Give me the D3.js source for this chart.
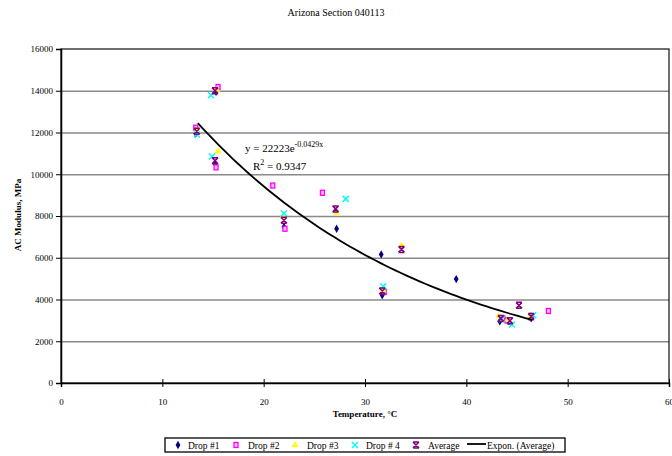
<!DOCTYPE html>
<html>
<head>
<meta charset="utf-8">
<script src="https://cdn.jsdelivr.net/npm/d3@7"></script>
<style>
  body { margin: 0; background: #fff; }
  text { font-family: "Liberation Serif", "Times New Roman", serif; fill: #000; }
</style>
</head>
<body>
<svg id="chart" width="672" height="456"></svg>
<script>
// chart text / ticks
const chartTitle = 'Arizona Section 040113';
const xLabel = 'Temperature, °C';
const yLabel = 'AC Modulus, MPa';
const xTicks = [0, 10, 20, 30, 40, 50, 60];
const yTicks = [0, 2000, 4000, 6000, 8000, 10000, 12000, 14000, 16000];

// [temperature, modulus]
const drop1 = [[13.3, 11950], [15.3, 13950], [15.2, 10520], [22.0, 7480], [27.2, 7390],
  [31.6, 6160], [31.7, 4200], [39.0, 4980], [43.3, 2950], [44.2, 2950], [46.4, 3100]];
const drop2 = [[13.3, 12230], [15.5, 14180], [15.3, 10330], [20.9, 9460], [22.1, 7390],
  [25.8, 9110], [31.9, 4360], [43.6, 3100], [44.0, 3000], [46.4, 3150], [48.1, 3450]];
const drop3 = [[13.4, 12100], [15.4, 14050], [15.5, 11100], [21.9, 7990], [27.2, 8150],
  [33.6, 6590], [31.8, 4440], [43.2, 3200], [44.1, 3050], [46.3, 3200]];
const drop4 = [[13.4, 11900], [14.8, 13780], [14.9, 10850], [22.0, 8120], [28.1, 8820],
  [31.8, 4630], [43.5, 3050], [44.5, 2800], [46.6, 3250]];
const average = [[13.4, 12060], [15.2, 14000], [15.2, 10650], [22.0, 7800], [27.1, 8340],
  [33.6, 6400], [31.7, 4410], [43.4, 3090], [44.3, 2980], [45.2, 3720], [46.4, 3190]];

// Excel exponential trendline of the average
const trendA = 22223;
const trendB = -0.0429;
const trendRange = [13.5, 46.5];
const eqText = 'y = 22223e';
const eqExp = '-0.0429x';
const r2Value = ' = 0.9347';

const legendNames = ['Drop #1', 'Drop #2', 'Drop #3', 'Drop # 4', 'Average', 'Expon. (Average)'];

const svg = d3.select('#chart');
const margin = { top: 49, left: 61, right: 3, bottom: 73 };
const width = 672, height = 456;
const innerW = width - margin.left - margin.right;
const innerH = height - margin.top - margin.bottom;

const x = d3.scaleLinear().domain([0, 60]).range([0, innerW]);
const y = d3.scaleLinear().domain([0, 16000]).range([innerH, 0]);

svg.append('text')
  .attr('x', 336).attr('y', 16)
  .attr('text-anchor', 'middle')
  .style('font-size', '10px')
  .text(chartTitle);

const g = svg.append('g').attr('transform', `translate(${margin.left},${margin.top})`);

// gridlines
g.append('g')
  .call(d3.axisLeft(y).tickValues(yTicks.slice(1, -1)).tickSize(-innerW).tickFormat(''))
  .call(a => a.select('.domain').remove())
  .call(a => a.selectAll('line').attr('stroke', '#8a8a8a').attr('stroke-width', 1.3));

// plot frame
g.append('rect')
  .attr('width', innerW).attr('height', innerH)
  .attr('fill', 'none').attr('stroke', '#222').attr('stroke-width', 1.3);

// y axis
g.append('g')
  .call(d3.axisLeft(y).tickValues(yTicks).tickSize(5).tickPadding(3).tickFormat(d3.format('d')))
  .call(a => a.select('.domain').attr('stroke', '#000').attr('stroke-width', 1.5))
  .call(a => a.selectAll('line').attr('stroke', '#000'))
  .call(a => a.selectAll('text').style('font-size', '9px').style('font-family', '"Liberation Serif", serif'));

// x axis, ticks cross the line
g.append('g')
  .attr('transform', `translate(0,${innerH})`)
  .call(d3.axisBottom(x).tickValues(xTicks).tickSize(4).tickPadding(12))
  .call(a => a.select('.domain').attr('stroke', '#000').attr('stroke-width', 1.5))
  .call(a => a.selectAll('line').attr('stroke', '#000').attr('y1', -4))
  .call(a => a.selectAll('text').style('font-size', '9px').style('font-family', '"Liberation Serif", serif'));

svg.append('text')
  .attr('x', margin.left + innerW / 2).attr('y', 417)
  .attr('text-anchor', 'middle')
  .style('font-size', '9px').style('font-weight', 'bold')
  .text(xLabel);

svg.append('text')
  .attr('transform', 'translate(21,215) rotate(-90)')
  .attr('text-anchor', 'middle')
  .style('font-size', '9px').style('font-weight', 'bold')
  .text(yLabel);

// marker painters
const markers = {
  drop1: sel => sel.append('path').attr('d', d3.symbol(d3.symbolDiamond, 20)())
    .attr('fill', '#000080'),
  drop2: sel => sel.append('rect').attr('x', -2).attr('y', -2.5).attr('width', 4).attr('height', 5)
    .attr('fill', '#ffc0ff').attr('stroke', '#ff00ff').attr('stroke-width', 1.3),
  drop3: sel => sel.append('path').attr('d', d3.symbol(d3.symbolTriangle, 20)())
    .attr('fill', '#ffff00'),
  drop4: sel => sel.append('path').attr('d', 'M-3,-3L3,3M3,-3L-3,3')
    .attr('stroke', '#00ffff').attr('stroke-width', 1.5).attr('fill', 'none'),
  average: sel => sel.append('path').attr('d', 'M-3,-3L3,-3M-3,3L3,3M-3,-3L3,3M3,-3L-3,3')
    .attr('stroke', '#800080').attr('stroke-width', 1.5).attr('fill', 'none')
};

const seriesList = [
  { key: 'drop1', data: drop1 },
  { key: 'drop2', data: drop2 },
  { key: 'drop3', data: drop3 },
  { key: 'drop4', data: drop4 },
  { key: 'average', data: average }
];

seriesList.forEach(s => {
  g.append('g').selectAll('g')
    .data(s.data)
    .enter()
    .append('g')
    .attr('transform', d => `translate(${x(d[0])},${y(d[1])})`)
    .call(markers[s.key]);
});

// trendline
const trendPts = d3.range(trendRange[0], trendRange[1] + 0.01, 0.5).map(t => [t, trendA * Math.exp(trendB * t)]);
g.append('path')
  .datum(trendPts)
  .attr('fill', 'none').attr('stroke', '#000').attr('stroke-width', 1.8)
  .attr('d', d3.line().x(d => x(d[0])).y(d => y(d[1])));

// equation
const eq = svg.append('text').attr('x', 245).attr('y', 152).style('font-size', '11px');
eq.append('tspan').text(eqText);
eq.append('tspan').attr('dy', -5).style('font-size', '8px').text(eqExp);
const r2 = svg.append('text').attr('x', 253).attr('y', 170).style('font-size', '11px');
r2.append('tspan').text('R');
r2.append('tspan').attr('dy', -5).style('font-size', '8px').text('2');
r2.append('tspan').attr('dy', 5).text(r2Value);

// legend
const legend = svg.append('g');
legend.append('rect')
  .attr('x', 165).attr('y', 438).attr('width', 400).attr('height', 14)
  .attr('fill', '#fff').attr('stroke', '#000').attr('stroke-width', 1.3);
const legendMarkX = [178, 236, 295, 355, 416];
const legendTextX = [188, 248, 307, 366, 428, 487];
seriesList.forEach((s, i) => {
  legend.append('g').attr('transform', `translate(${legendMarkX[i]},445)`).call(markers[s.key]);
});
legend.append('line')
  .attr('x1', 467).attr('x2', 486).attr('y1', 444).attr('y2', 444)
  .attr('stroke', '#000').attr('stroke-width', 1.8);
legendNames.forEach((n, i) => {
  legend.append('text')
    .attr('x', legendTextX[i]).attr('y', 449)
    .style('font-size', '9.5px')
    .text(n);
});
</script>
</body>
</html>
